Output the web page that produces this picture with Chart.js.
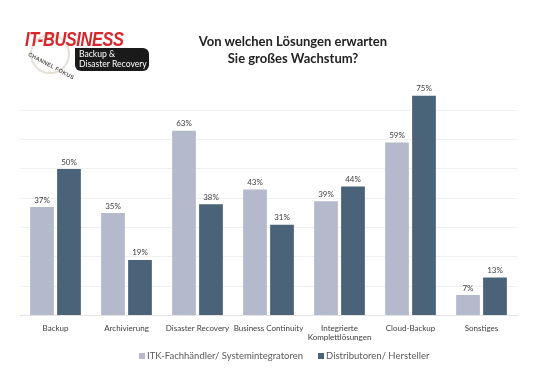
<!DOCTYPE html>
<html><head><meta charset="utf-8">
<script src="https://cdn.jsdelivr.net/npm/chart.js@4/dist/chart.umd.min.js"></script>
<style>
html,body{margin:0;padding:0;background:#fff;}
#wrap{position:relative;width:540px;height:382px;overflow:hidden;font-family:Lato,"Open Sans",sans-serif;}
#c{position:absolute;left:0;top:0;}
#title{position:absolute;left:173px;width:240px;top:33px;text-align:center;font-weight:bold;font-size:13px;line-height:17px;color:#222;font-family:Lato,"Open Sans",sans-serif;}
#logo{position:absolute;left:0;top:0;width:160px;height:80px;}
#itb{position:absolute;left:25px;top:27px;font-family:"Liberation Sans Narrow","Liberation Sans",sans-serif;font-weight:bold;font-style:italic;font-size:21px;letter-spacing:-0.5px;color:#d8262b;transform:scaleX(0.78);transform-origin:left;white-space:nowrap;}
#box{position:absolute;left:75px;top:48px;width:74px;height:23px;background:#1a1a1a;border-radius:0 6px 6px 6px;color:#fff;font-family:Lato,sans-serif;font-size:8.6px;line-height:10px;padding:1px 0 0 4px;box-sizing:border-box;white-space:nowrap;}
#circ{position:absolute;left:30px;top:34px;width:40px;height:40px;border-radius:50%;border:2px solid #e6e0d6;box-sizing:border-box;}
#cf{position:absolute;left:30px;top:51px;font-size:5.5px;font-weight:bold;color:#555;font-family:"Liberation Sans",sans-serif;transform:rotate(28deg);transform-origin:left top;letter-spacing:0.3px;white-space:nowrap;}
.lg{position:absolute;top:350px;font-size:9.5px;line-height:12px;color:#595959;font-family:Lato,sans-serif;white-space:nowrap;}
.sq{display:inline-block;width:6px;height:6px;margin-right:2px;vertical-align:0px;}
</style></head>
<body><div id="wrap">
<canvas id="c" width="540" height="382"></canvas>
<div id="logo"><div id="circ"></div><div id="itb">IT-BUSINESS</div><div id="cf">CHANNEL FOKUS</div><div id="box">Backup &amp;<br>Disaster Recovery</div></div>
<div id="title">Von welchen Lösungen erwarten<br>Sie großes Wachstum?</div>
<div id="lg1" class="lg" style="left:139px"><span class="sq"></span><span class="t"></span></div>
<div id="lg2" class="lg" style="left:318px"><span class="sq"></span><span class="t"></span></div>
</div>
<script>
const categories = ["Backup","Archivierung","Disaster Recovery","Business Continuity",["Integrierte","Komplettlösungen"],"Cloud-Backup","Sonstiges"];
const seriesNames = ["ITK-Fachhändler/ Systemintegratoren","Distributoren/ Hersteller"];
const itkValues = [37,35,63,43,39,59,7];
const distValues = [50,19,38,31,44,75,13];
const colors = ["#b4bacb","#4a6378"];

['lg1','lg2'].forEach((id,i)=>{
  const el=document.getElementById(id);
  el.querySelector('.sq').style.background=colors[i];
  el.querySelector('.t').textContent=seriesNames[i];
});

const labelPlugin = {
  id:'barLabels',
  afterDatasetsDraw(chart){
    const ctx = chart.ctx;
    ctx.save();
    ctx.font = '8px Lato, "Open Sans", sans-serif';
    ctx.fillStyle = '#404040';
    ctx.textAlign = 'center';
    ctx.textBaseline = 'bottom';
    chart.data.datasets.forEach((ds,i)=>{
      chart.getDatasetMeta(i).data.forEach((el,j)=>{
        ctx.fillText(ds.data[j]+'%', el.x, el.y-3);
      });
    });
    ctx.restore();
  }
};

new Chart(document.getElementById('c'),{
  type:'bar',
  data:{
    labels:categories,
    datasets:[
      {label:seriesNames[0],data:itkValues,backgroundColor:colors[0]},
      {label:seriesNames[1],data:distValues,backgroundColor:colors[1]}
    ]
  },
  options:{
    responsive:false,animation:false,
    layout:{padding:{left:20,right:23,top:81,bottom:40}},
    categoryPercentage:0.76,barPercentage:0.88,
    plugins:{
      legend:{display:false},
      tooltip:{enabled:false}
    },
    scales:{
      x:{grid:{display:false},border:{display:true,color:'#e4e4e4'},ticks:{color:'#404040',font:{size:8,family:'Lato, "Open Sans", sans-serif',lineHeight:1.15},maxRotation:0,autoSkip:false,padding:0}},
      y:{min:0,max:80,ticks:{display:false,stepSize:10},border:{display:false},grid:{drawTicks:false,color:(c)=>c.tick&&c.tick.value>=80?'rgba(0,0,0,0)':'#f0f0f0'}}
    }
  },
  plugins:[labelPlugin]
});
</script>
</body></html>
